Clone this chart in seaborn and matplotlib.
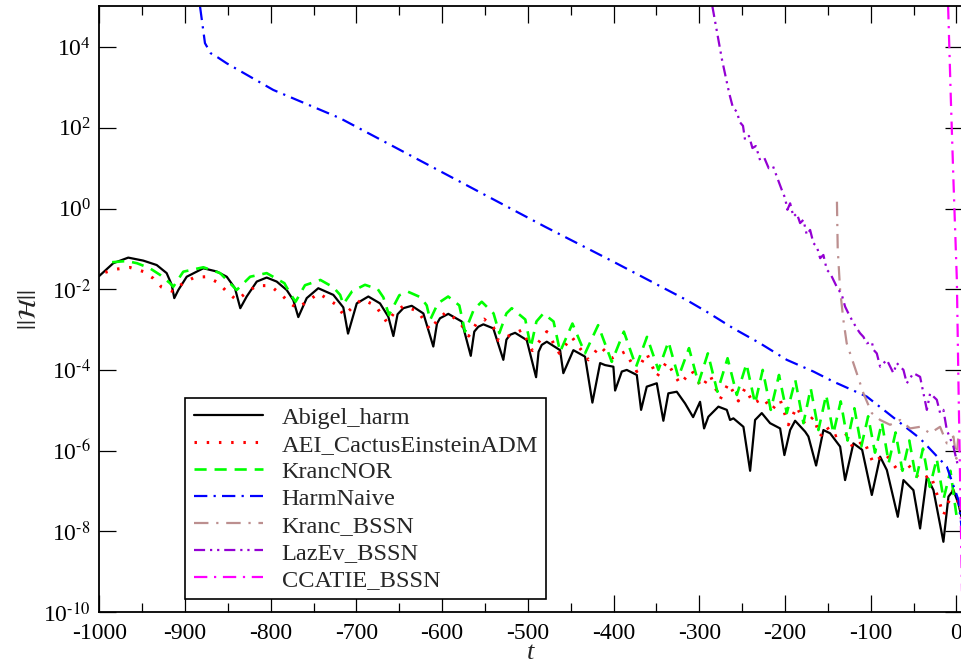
import numpy as np
import pandas as pd
import matplotlib
matplotlib.use("Agg")
import matplotlib.pyplot as plt
import seaborn as sns
from matplotlib.ticker import FixedLocator, MultipleLocator, NullLocator, FuncFormatter

# ---------------- data (t, log10 ||H||) ----------------
abigel_t = [-1000, -983.7, -966.2, -948.7, -933.0, -921.4, -915.5, -912.5, -907.8, -898.0,
            -878.6, -863.0, -851.3, -841.7, -835.5, -828, -816.3, -804.7, -793, -781.3,
            -773.6, -767.8, -758, -744.5, -726.9, -715.3, -709.8, -699.6, -686.1, -672.5,
            -662.8, -656.9, -652, -645.3, -635.5, -621.9, -610.3, -606, -602.5, -592.8,
            -577.1, -566.6, -562.5, -557.8, -551.9, -540.3, -528.6, -525, -520.8, -514.9,
            -501.3, -490.4, -487.5, -483.8, -477.9,
            -462.4, -458.6, -446.9, -433.3, -424.7, -415.7, -409.9, -400.2, -398.2, -390.4,
            -384.6, -372.9, -367.9, -361.3, -349.6, -341.9, -336.1, -326.3, -316.6, -307.2,
            -299.1, -294.4, -289.4, -277.7, -267.9, -264.1, -260.2, -248.5, -240.7, -234.9,
            -227.1, -217.4, -205.7, -200.7, -194.0, -188.2, -176.5, -172.7, -163.7, -155.2,
            -147.4, -135.7, -129.9, -120.2, -110.0, -98.7, -89.0, -81.2, -68.4, -61.8,
            -50.2, -42.4, -34.5, -26.8, -15.2, -9.3, -3.5, 2.3, 6.5]
abigel_log = [-1.67, -1.355, -1.216, -1.29, -1.40, -1.60, -1.89, -2.22, -2.02, -1.69,
              -1.48, -1.56, -1.69, -1.975, -2.47, -2.18, -1.81, -1.71, -1.81, -2.02,
              -2.27, -2.69, -2.22, -1.975, -2.14, -2.45, -3.1, -2.35, -2.18, -2.35,
              -2.68, -3.16, -2.62, -2.47, -2.41, -2.60, -3.42, -2.85, -2.72, -2.61,
              -2.80, -3.65, -3.05, -2.93, -2.87, -2.97, -3.75, -3.25, -3.13, -3.08,
              -3.26, -4.18, -3.55, -3.38, -3.30,
              -3.51, -4.08, -3.51, -3.67, -4.81, -3.83, -3.88, -3.92, -4.51, -4.04,
              -4.00, -4.125, -4.99, -4.415, -4.33, -5.26, -4.58, -4.54, -4.83, -5.17,
              -4.79, -5.45, -5.16, -4.91, -4.99, -5.24, -5.20, -5.41, -6.50, -5.24,
              -5.07, -5.32, -5.45, -6.11, -5.49, -5.26, -5.53, -5.65, -6.37, -5.49,
              -5.57, -5.90, -6.73, -5.82, -5.98, -7.10, -6.15, -6.48, -7.64, -6.73,
              -6.98, -7.93, -6.65, -6.98, -8.26, -7.14, -6.98, -7.31, -7.7]

aei_t = [-993, -979.7, -964.2, -948.7, -937.0, -927.2, -913.7, -902.0, -888.3, -874.7,
         -861.1, -851.3, -839.7, -828.0, -816.3, -800.8, -787.2, -777.5, -769, -758,
         -744, -723, -714.6, -703.6, -693.8, -678, -664, -655, -644.5, -628,
         -614, -605, -595.4, -580, -569, -560, -551, -540, -534.4, -506.8,
         -494.8, -477.9, -463.2, -448.8, -429.4, -415.7, -402.1, -386.6, -372.9, -361.3,
         -349.6, -337.9, -322.4, -308.7, -297.1, -287.4, -275.7, -266.0, -254.4, -246.5,
         -236.9, -225.2, -215.4, -205.7, -196.0, -186.2, -176.5, -166.8, -159.0, -151.2,
         -143.5, -130, -120, -108, -97, -83, -66, -58, -42, -30,
         -15, -4, 6.5]
aei_log = [-1.58, -1.50, -1.46, -1.56, -1.73, -1.95, -2.06, -1.84, -1.70, -1.69,
           -1.84, -2.06, -2.27, -2.08, -1.91, -1.91, -2.14, -2.35, -2.47, -2.31,
           -2.10, -2.39, -2.65, -2.43, -2.25, -2.40, -2.83, -2.55, -2.41, -2.55,
           -3.01, -2.75, -2.57, -2.80, -3.16, -2.85, -2.74, -2.95, -3.27, -3.01,
           -3.52, -3.05, -3.59, -3.18, -3.75, -3.41, -3.71, -3.55, -4.04, -3.59,
           -4.17, -3.80, -4.35, -4.02, -4.44, -4.125, -4.73, -4.33, -4.77, -4.45,
           -4.83, -4.70, -4.99, -4.74, -5.36, -4.91, -5.36, -5.16, -5.65, -5.41,
           -5.65, -5.55, -5.95, -5.75, -6.31, -6.07, -6.56, -6.31, -6.73, -6.60,
           -7.60, -6.98, -7.50]

kranc_nor_t = [-985, -968, -956, -941, -929, -917.5, -913.7, -902, -878.6, -859,
               -847.5, -839.7, -824, -804.7, -784, -777.5, -771, -760, -742, -727,
               -719, -715.3, -705, -690, -675, -668.6, -662, -650, -640, -625,
               -618, -614, -605, -593, -580, -573.3, -563, -553.8, -540, -533.3,
               -525, -518.8, -503, -496.6, -490, -481.9, -470, -462.4, -448, -433.3,
               -418, -402.1, -388, -373.7, -361, -347.7, -336, -324.4, -312, -301,
               -290, -278.9, -267, -256.2, -245, -234.9, -226, -216.6, -207, -197.9,
               -188, -178.5, -170, -161, -152, -143.5, -135, -127, -119, -111,
               -103, -95, -87, -79, -71, -63, -55, -47, -39, -31,
               -23, -15, -7, 0, 6.5]
kranc_nor_log = [-1.33, -1.30, -1.355, -1.48, -1.645, -1.85, -1.94, -1.565, -1.455, -1.60,
                 -1.85, -2.02, -1.69, -1.60, -1.85, -2.10, -2.31, -1.90, -1.77, -1.95,
                 -2.14, -2.37, -2.05, -1.89, -2.00, -2.20, -2.64, -2.15, -2.06, -2.20,
                 -2.40, -2.76, -2.35, -2.18, -2.40, -3.05, -2.50, -2.31, -2.60, -3.09,
                 -2.60, -2.47, -2.75, -3.44, -2.80, -2.60, -2.80, -3.55, -2.85, -3.59,
                 -2.89, -3.80, -3.05, -3.92, -3.18, -4.00, -3.30, -4.18, -3.46, -4.33,
                 -3.59, -4.54, -3.71, -4.62, -3.85, -4.83, -4.00, -4.99, -4.125, -5.07,
                 -4.25, -5.32, -4.455, -5.49, -4.62, -5.57, -4.78, -5.75, -4.95, -5.90,
                 -5.15, -6.05, -5.30, -6.30, -5.55, -6.50, -5.75, -6.70, -5.95, -6.90,
                 -6.20, -7.20, -6.50, -7.60, -7.30]

harm_naive_t = [-882.4, -876.7, -870, -862, -851.3, -797, -719.1, -640, -560, -480,
                -400, -314.6, -291.2, -260.2, -229.1, -197.9, -166.8, -143.5, -104.6, -42.4,
                -11.2, 2.3, 6.5]
harm_naive_log = [5.0, 4.10, 3.85, 3.75, 3.60, 2.94, 2.24, 1.35, 0.45, -0.45,
                  -1.32, -2.27, -2.56, -2.97, -3.34, -3.75, -4.04, -4.29, -4.66, -5.70,
                  -6.40, -7.22, -8.0]

kranc_bssn_t = [-139.4, -138.5, -135.7, -131.9, -128, -116.3, -108.5, -98.7, -89, -77.4,
                -65.7, -54.1, -42.4, -30.7, -19.1, -11.2, -3.5, 0, 2]
kranc_bssn_log = [0.17, -1.0, -2.02, -2.76, -3.34, -4.08, -4.58, -5.07, -5.24, -5.36,
                  -5.24, -5.45, -5.41, -5.57, -5.41, -5.82, -5.65, -6.2, -5.7]

lazev_t = [-284.8, -273.4, -265, -260.6, -256, -253, -249, -246.6, -242, -238,
           -234, -229.1, -224, -219, -214, -208.1, -203.7, -199.9, -197.2, -194.0,
           -190.2, -186.2, -182.4, -178.5, -174.6, -170.7, -166.8, -162.9, -159.0, -155.2,
           -151.2, -147.4, -143.5, -139.6, -133.7, -129.9, -126.0, -122.0, -116.3, -112.4,
           -108.5, -104.6, -98.7, -96.8, -92.9, -89.0, -81.2, -73.5, -69.6, -61.8,
           -57.9, -50.2, -42.4, -34.5, -30.7, -22.9, -19.0, -15.2, -11.2, -3.5, 2]
lazev_log = [5.02, 3.68, 2.85, 2.49, 2.40, 2.15, 2.05, 1.70, 1.80, 1.50,
             1.55, 1.20, 1.25, 1.00, 1.05, 0.71, 0.46, 0.26, -0.03, 0.13,
             -0.20, -0.12, -0.36, -0.28, -0.65, -0.53, -0.86, -0.94, -1.23, -1.15,
             -1.52, -1.60, -1.77, -1.94, -2.14, -2.43, -2.60, -2.76, -2.97, -3.09,
             -3.18, -3.34, -3.30, -3.50, -3.59, -3.92, -3.75, -4.08, -3.83, -4.00,
             -4.33, -4.08, -4.17, -4.99, -4.58, -4.74, -5.07, -4.99, -5.49, -5.90, -6.4]

ccatie_t = [-9.7, -6.5, -3.5, 0.5, 2.3, 4.3, 6.3, 7.0]
ccatie_log = [5.02, 2.7, 0.71, -1.77, -4.25, -6.73, -9.2, -10.2]

labels = ["Abigel_harm", "AEI_CactusEinsteinADM", "KrancNOR", "HarmNaive",
          "Kranc_BSSN", "LazEv_BSSN", "CCATIE_BSSN"]
x_ticks = [-1000, -900, -800, -700, -600, -500, -400, -300, -200, -100, 0]
y_tick_exponents = [-10, -8, -6, -4, -2, 0, 2, 4]

series = [(abigel_t, abigel_log), (aei_t, aei_log), (kranc_nor_t, kranc_nor_log),
          (harm_naive_t, harm_naive_log), (kranc_bssn_t, kranc_bssn_log),
          (lazev_t, lazev_log), (ccatie_t, ccatie_log)]
for t, lg in series:
    assert len(t) == len(lg), (len(t), len(lg))

# ---------------- styling ----------------
sns.set_theme(style="ticks")
plt.rcParams.update({
    "font.family": ["Liberation Serif", "DejaVu Serif"],
    "mathtext.fontset": "stix",
    "axes.unicode_minus": False,
    "axes.linewidth": 1.3,
    "xtick.direction": "in", "ytick.direction": "in",
    "xtick.top": True, "ytick.right": True,
    "xtick.major.size": 12.5, "ytick.major.size": 12.5,
    "xtick.minor.size": 6.5, "ytick.minor.size": 0,
    "xtick.major.width": 0.9, "ytick.major.width": 0.9,
    "xtick.minor.width": 0.9,
    "xtick.color": "black", "ytick.color": "black",
    "axes.edgecolor": "black",
})

styles = [
    dict(color="black", lw=1.6, ls="-"),
    dict(color="#ff0000", lw=2.2, ls=(0, (0.8, 3.2))),
    dict(color="#00ff00", lw=1.9, ls=(0, (4.6, 3.0))),
    dict(color="#0000ff", lw=1.6, ls=(0, (6, 2.8, 1, 2.8))),
    dict(color="#bc8f8f", lw=1.6, ls=(0, (6.5, 3.5, 1, 3.5))),
    dict(color="#9400d3", lw=1.6, ls=(0, (5, 2.2, 1, 2.2, 1, 2.2))),
    dict(color="#ff00ff", lw=1.6, ls=(0, (6, 3, 1, 3))),
]

fig = plt.figure(figsize=(9.62, 6.66), dpi=100)
ax = fig.add_axes([0.1032, 0.0811, 0.8968, 0.9099])
ax.set_yscale("log")

for (t, lg), lab, st in zip(series, labels, styles):
    df = pd.DataFrame({"t": t, "H": np.power(10.0, np.array(lg, dtype=float))})
    sns.lineplot(data=df, x="t", y="H", sort=False, estimator=None, ax=ax,
                 color=st["color"], linewidth=st["lw"], linestyle=st["ls"],
                 label=lab, legend=False)


def log_label(v, pos):
    e = int(round(np.log10(v)))
    if e < 0:
        return r"$\mathdefault{10^{\text{-%d}}}$" % (-e)
    return r"$\mathdefault{10^{%d}}$" % e


ax.set_xlim(-1000, 6.5)
ax.set_ylim(1e-10, 1.05e5)
ax.xaxis.set_major_locator(FixedLocator(x_ticks))
ax.xaxis.set_minor_locator(MultipleLocator(50))
ax.yaxis.set_major_locator(FixedLocator([10.0 ** e for e in y_tick_exponents]))
ax.yaxis.set_major_formatter(FuncFormatter(log_label))
ax.yaxis.set_minor_locator(NullLocator())
ax.tick_params(axis="both", labelsize=17)
ax.tick_params(axis="x", pad=8)
ax.tick_params(axis="y", pad=6)

ax.set_xlabel("t", fontsize=19, style="italic")
ax.xaxis.set_label_coords(0.5, -0.05)
ax.set_ylabel(r"$||\mathcal{H}||$", fontsize=18, labelpad=2)

leg = ax.legend(loc="lower left", bbox_to_anchor=(0.0993, 0.021), borderaxespad=0,
                frameon=True, fancybox=False, edgecolor="black", framealpha=1,
                fontsize=17.6, handlelength=2.85, handletextpad=0.75,
                labelspacing=0.2, borderpad=0.35)
leg.get_frame().set_linewidth(1.2)

fig.savefig("out.png", dpi=100)
